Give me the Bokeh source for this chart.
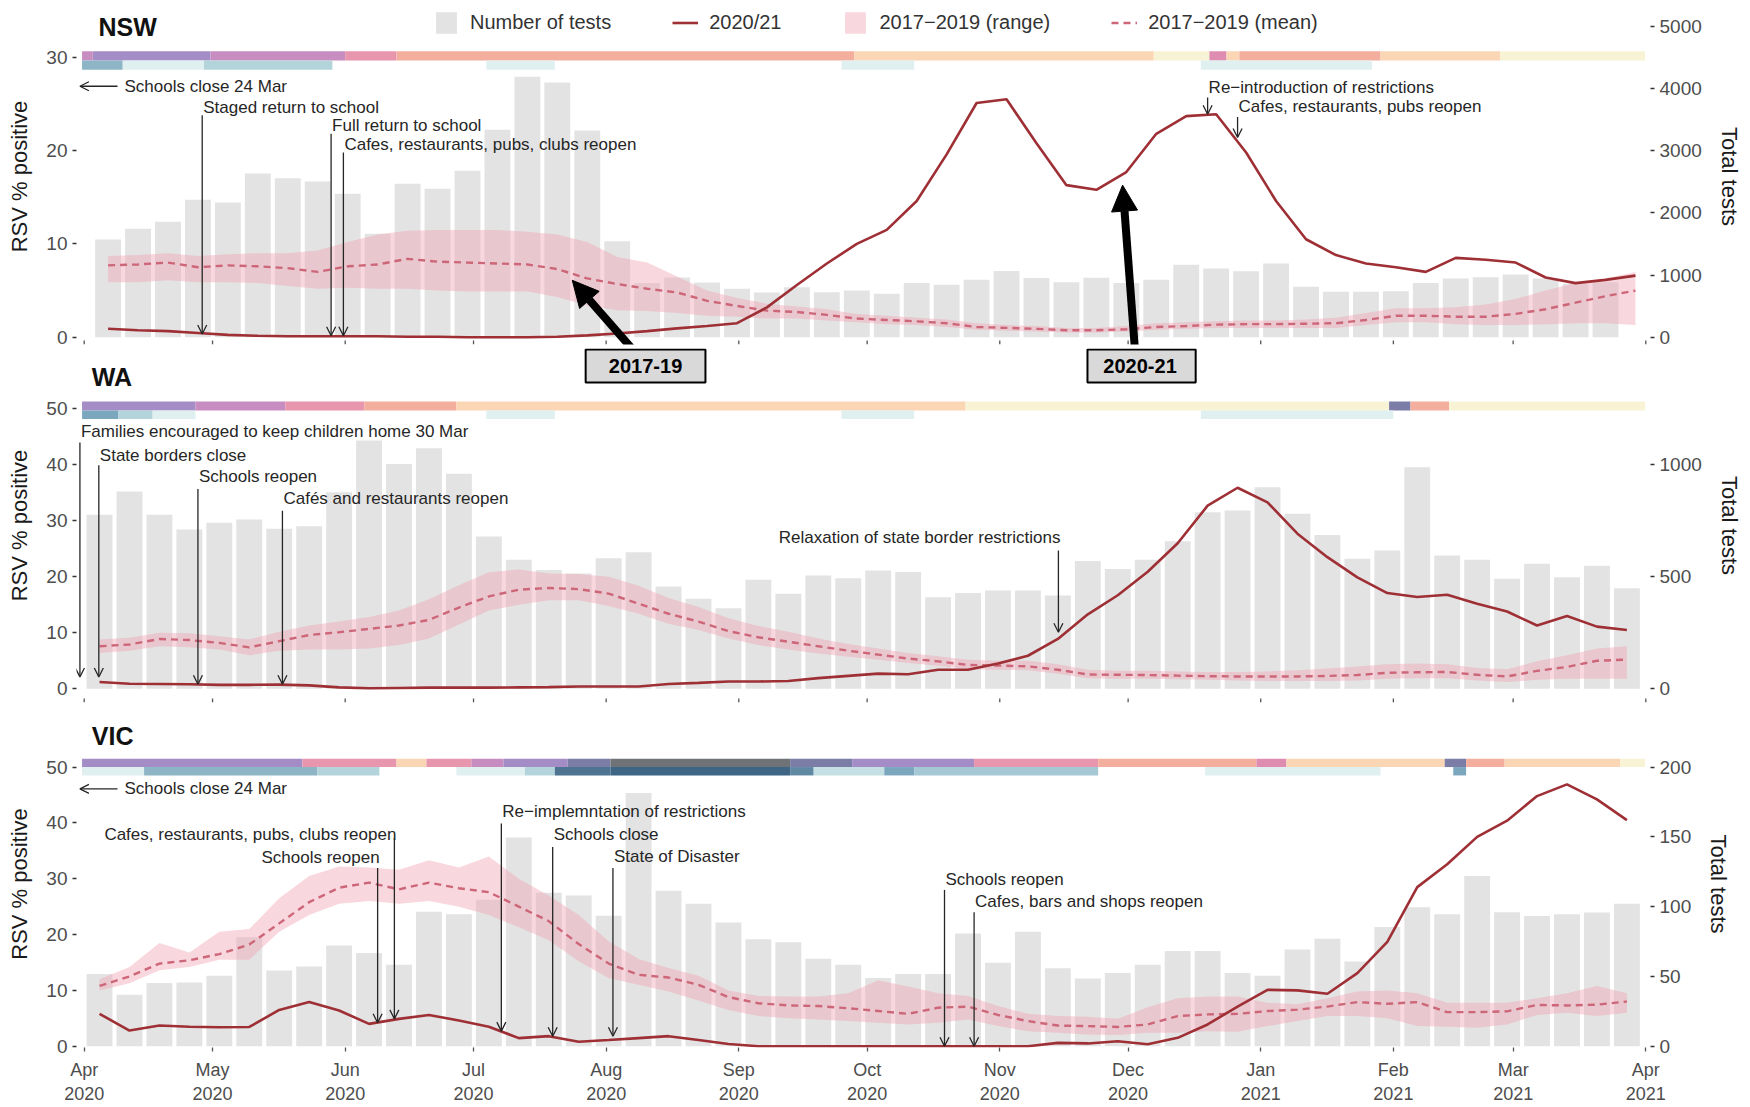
import pandas as pd
from bokeh.plotting import figure
from bokeh.layouts import column
from bokeh.models import (Range1d, LinearAxis, FixedTicker, DatetimeTickFormatter, Label,
                          Arrow, OpenHead, NormalHead, Legend, LegendItem, ColumnDataSource)
from bokeh.embed import file_html
from bokeh.resources import INLINE

# ---------------------------------------------------------------- data
month_ticks = ["2020-04-01", "2020-05-01", "2020-06-01", "2020-07-01", "2020-08-01",
               "2020-09-01", "2020-10-01", "2020-11-01", "2020-12-01", "2021-01-01",
               "2021-02-01", "2021-03-01", "2021-04-01"]

nsw_week_start = "2020-04-06 14:00"
wa_week_start = "2020-04-04 14:00"
vic_week_start = "2020-04-04 14:00"

# NSW
nsw_rsv_2020 = [0.9, 0.75, 0.65, 0.45, 0.25, 0.15, 0.1, 0.1, 0.1, 0.1,
                0.05, 0.05, 0.0, 0.0, 0.0, 0.05, 0.2, 0.4, 0.65, 0.95,
                1.2, 1.5, 3.2, 5.6, 7.9, 10.0, 11.5, 14.6, 19.6, 25.1,
                25.5, 20.8, 16.3, 15.8, 17.7, 21.8, 23.7, 23.9, 19.8, 14.6,
                10.5, 8.8, 7.9, 7.5, 7.0, 8.5, 8.3, 8.0, 6.4, 5.8,
                6.15, 6.6]
nsw_mean = [7.7, 7.8, 8.0, 7.5, 7.7, 7.6, 7.4, 7.0, 7.6, 7.8,
            8.4, 8.1, 8.0, 7.9, 7.8, 7.3, 6.3, 5.7, 5.2, 4.8,
            3.9, 3.35, 2.85, 2.7, 2.4, 2.0, 1.85, 1.7, 1.5, 1.1,
            1.0, 0.9, 0.75, 0.75, 0.85, 1.1, 1.2, 1.35, 1.4, 1.4,
            1.45, 1.5, 1.85, 2.3, 2.3, 2.2, 2.2, 2.5, 3.0, 3.7,
            4.4, 5.0]
nsw_low = [5.9, 5.9, 6.1, 5.9, 5.9, 5.8, 5.5, 5.2, 5.3, 5.2,
           5.2, 5.0, 4.9, 4.9, 4.9, 4.3, 3.4, 2.9, 2.8, 2.6,
           2.3, 2.2, 2.0, 2.0, 1.8, 1.6, 1.4, 1.3, 1.1, 0.8,
           0.7, 0.6, 0.5, 0.5, 0.6, 0.8, 0.9, 1.0, 1.0, 1.0,
           1.0, 1.0, 1.3, 1.6, 1.6, 1.4, 1.3, 1.3, 1.4, 1.5,
           1.5, 1.3]
nsw_high = [8.7, 8.8, 9.0, 8.7, 8.9, 9.0, 9.0, 9.3, 10.2, 11.0,
            11.4, 11.5, 11.5, 11.5, 11.3, 11.0, 10.2, 8.6, 8.0, 6.5,
            5.0, 4.2, 3.6, 3.3, 3.0, 2.5, 2.3, 2.1, 1.9, 1.5,
            1.3, 1.2, 1.0, 1.0, 1.2, 1.5, 1.6, 1.7, 1.8, 1.8,
            1.9, 2.1, 2.6, 3.1, 3.1, 3.2, 3.5, 4.1, 5.0, 5.8,
            6.3, 7.0]
nsw_tests = [1571, 1743, 1855, 2209, 2166, 2632, 2557, 2504, 2306, 1663,
             2467, 2386, 2676, 3335, 4187, 4096, 3324, 1544, 870, 960,
             880, 780, 720, 804, 724, 751, 698, 870, 845, 925,
             1065, 952, 885, 955, 872, 922, 1166, 1105, 1061, 1185,
             810, 730, 730, 738, 870, 944, 965, 1008, 942, 858,
             885]

# WA
wa_rsv_2020 = [1.2, 0.9, 0.85, 0.8, 0.7, 0.7, 0.75, 0.6, 0.25, 0.1,
               0.15, 0.2, 0.2, 0.2, 0.25, 0.3, 0.4, 0.4, 0.4, 0.85,
               1.05, 1.3, 1.3, 1.4, 1.9, 2.3, 2.7, 2.6, 3.4, 3.4,
               4.5, 5.9, 8.9, 13.3, 16.7, 20.9, 26.0, 32.7, 35.9, 33.3,
               27.7, 23.5, 19.9, 17.1, 16.4, 16.8, 15.2, 13.8, 11.3, 13.0,
               11.1, 10.5]
wa_mean = [7.6, 7.9, 8.9, 8.7, 8.2, 7.4, 8.5, 9.6, 10.1, 10.7,
           11.3, 12.3, 14.5, 16.5, 17.7, 18.0, 17.8, 17.0, 15.2, 13.4,
           12.0, 10.3, 9.2, 8.4, 7.6, 6.8, 6.1, 5.4, 4.9, 4.25,
           4.15, 4.0, 3.4, 2.55, 2.5, 2.45, 2.35, 2.25, 2.2, 2.2,
           2.2, 2.3, 2.45, 2.85, 2.95, 3.0, 2.5, 2.2, 3.2, 3.9,
           5.0, 5.2]
wa_low = [6.4, 6.8, 7.6, 7.4, 7.0, 6.0, 6.8, 7.0, 7.0, 7.2,
          7.8, 9.0, 11.5, 14.0, 15.0, 15.8, 15.8, 14.8, 13.4, 11.6,
          10.5, 9.0, 7.8, 7.0, 6.3, 5.7, 5.2, 4.6, 4.1, 3.5,
          3.4, 3.3, 2.7, 1.9, 1.8, 1.8, 1.7, 1.6, 1.5, 1.4,
          1.4, 1.4, 1.5, 1.8, 1.9, 1.9, 1.5, 1.2, 1.6, 1.8,
          1.8, 1.8]
wa_high = [8.8, 9.1, 10.0, 9.9, 9.4, 8.8, 10.2, 11.3, 12.0, 12.8,
           14.0, 16.0, 18.5, 20.8, 21.3, 20.6, 20.5, 20.0, 18.4, 16.2,
           14.6, 12.6, 11.2, 10.2, 9.0, 8.0, 7.2, 6.4, 5.8, 5.2,
           5.0, 5.0, 4.4, 3.4, 3.2, 3.2, 3.1, 3.0, 3.0, 3.1,
           3.3, 3.6, 4.0, 4.4, 4.5, 4.4, 3.7, 3.5, 4.9, 6.0,
           7.2, 7.6]
wa_tests = [777, 881, 777, 711, 741, 756, 714, 726, 878, 1108,
            1004, 1074, 960, 680, 576, 530, 515, 583, 610, 457,
            402, 360, 487, 424, 506, 494, 528, 521, 409, 428,
            439, 439, 417, 570, 535, 576, 659, 788, 796, 900,
            781, 687, 580, 617, 989, 595, 576, 491, 558, 498,
            549, 449]

# VIC
vic_rsv_2020 = [5.8, 2.8, 3.7, 3.5, 3.4, 3.45, 6.5, 7.9, 6.4, 4.0,
                4.9, 5.6, 4.6, 3.5, 1.45, 1.8, 0.8, 1.1, 1.45, 1.8,
                1.1, 0.4, 0.0, 0.0, 0.0, 0.0, 0.0, 0.0, 0.0, 0.0,
                0.0, 0.0, 0.6, 0.5, 0.9, 0.35, 1.5, 3.9, 7.1, 10.1,
                10.0, 9.4, 13.1, 18.7, 28.5, 32.6, 37.5, 40.4, 44.8, 46.9,
                44.2, 40.5]
vic_mean = [10.8, 12.5, 14.8, 15.4, 16.5, 18.2, 22.0, 25.8, 28.4, 29.3,
            28.1, 29.3, 28.3, 27.6, 25.0, 22.4, 18.3, 14.8, 12.8, 12.3,
            11.0, 8.8, 7.7, 7.3, 7.2, 6.8, 6.3, 5.8, 6.9, 7.1,
            5.6, 4.5, 3.7, 3.6, 3.45, 3.9, 5.4, 5.7, 5.8, 6.3,
            6.55, 7.1, 7.9, 7.6, 7.9, 6.1, 6.1, 6.25, 7.4, 7.3,
            7.45, 8.0]
vic_low = [10.0, 11.3, 13.6, 14.2, 15.5, 15.5, 20.5, 23.5, 25.5, 26.0,
           25.5, 26.0, 25.0, 23.5, 21.3, 19.0, 15.2, 12.2, 11.0, 9.8,
           8.2, 6.5, 5.4, 5.0, 4.8, 4.5, 4.2, 3.9, 4.2, 4.8,
           3.6, 2.7, 2.4, 2.1, 2.0, 2.4, 2.4, 2.7, 2.6, 3.6,
           4.5, 5.4, 5.4, 5.0, 3.6, 3.5, 3.3, 3.9, 5.6, 6.0,
           5.4, 6.0]
vic_high = [12.0, 14.2, 18.5, 16.8, 20.5, 21.0, 26.5, 30.5, 32.2, 32.0,
            31.6, 33.3, 32.0, 34.0, 30.0, 27.0, 23.5, 18.8, 15.6, 14.0,
            12.6, 10.0, 9.0, 8.9, 8.9, 9.5, 11.8, 10.7, 9.5, 9.0,
            7.2, 5.8, 5.4, 5.3, 4.9, 7.0, 8.6, 8.9, 8.9, 7.8,
            7.5, 8.6, 9.8, 10.0, 9.5, 7.8, 7.8, 7.8, 8.6, 9.5,
            10.8, 9.5]
vic_tests = [51.7, 36.9, 45.3, 45.7, 50.5, 78, 54.3, 57.1, 72.1, 66.7,
             58.4, 96.4, 94.5, 105, 149.6, 110, 108, 93.5, 181.5, 111.3,
             102, 88.6, 76.7, 74.5, 62.6, 58.4, 48.8, 51.8, 51.8, 80.8,
             59.8, 82, 55.8, 48.5, 52.4, 58.4, 68.3, 68.3, 52.4, 50.4,
             69.3, 77, 60.7, 85.5, 99.5, 94.5, 122, 96, 93.3, 94.5,
             95.8, 102]

# restriction strips: (start, end, level)
nsw_stringency = [("2020-03-31 12:00", "2020-04-03", 6), ("2020-04-03", "2020-04-30 12:00", 7),
                  ("2020-04-30 12:00", "2020-06-01", 6), ("2020-06-01", "2020-06-13", 4),
                  ("2020-06-13", "2020-09-28", 3), ("2020-09-28", "2020-12-07", 2),
                  ("2020-12-07", "2020-12-20", 1), ("2020-12-20", "2020-12-24", 5),
                  ("2020-12-24", "2020-12-27", 2), ("2020-12-27", "2021-01-29", 3),
                  ("2021-01-29", "2021-02-26", 2), ("2021-02-26", "2021-03-31 20:00", 1)]
nsw_mobility = [("2020-03-31 12:00", "2020-04-10", 5), ("2020-04-10", "2020-04-29", 1),
                ("2020-04-29", "2020-05-29", 3), ("2020-07-04", "2020-07-20", 1),
                ("2020-09-25", "2020-10-12", 1), ("2020-12-18", "2021-01-27", 1)]
wa_stringency = [("2020-03-31 12:00", "2020-04-27", 7), ("2020-04-27", "2020-05-18", 6),
                 ("2020-05-18", "2020-06-05 12:00", 4), ("2020-06-05 12:00", "2020-06-27", 3),
                 ("2020-06-27", "2020-10-24", 2), ("2020-10-24", "2021-01-31", 1),
                 ("2021-01-31", "2021-02-05", 8), ("2021-02-05", "2021-02-14", 3),
                 ("2021-02-14", "2021-03-31 20:00", 1)]
wa_mobility = [("2020-03-31 12:00", "2020-04-09", 6), ("2020-04-09", "2020-04-17", 3),
               ("2020-04-17", "2020-04-27", 1), ("2020-07-04", "2020-07-20", 1),
               ("2020-09-25", "2020-10-12", 1), ("2020-12-18", "2021-02-01", 1)]
vic_stringency = [("2020-03-31 12:00", "2020-05-22", 7), ("2020-05-22", "2020-06-13", 4),
                  ("2020-06-13", "2020-06-20", 2), ("2020-06-20", "2020-06-30 12:00", 4),
                  ("2020-06-30 12:00", "2020-07-08", 6), ("2020-07-08", "2020-07-23", 7),
                  ("2020-07-23", "2020-08-02", 8), ("2020-08-02", "2020-09-13", 9),
                  ("2020-09-13", "2020-09-27 12:00", 8), ("2020-09-27 12:00", "2020-10-26", 7),
                  ("2020-10-26", "2020-11-24", 4), ("2020-11-24", "2020-12-31", 3),
                  ("2020-12-31", "2021-01-07", 5), ("2021-01-07", "2021-02-13", 2),
                  ("2021-02-13", "2021-02-18", 8), ("2021-02-18", "2021-02-27", 3),
                  ("2021-02-27", "2021-03-26", 2), ("2021-03-26", "2021-03-31 20:00", 1)]
vic_mobility = [("2020-03-31 12:00", "2020-04-15", 1), ("2020-04-15", "2020-05-25 12:00", 5),
                ("2020-05-25 12:00", "2020-06-09", 3), ("2020-06-27", "2020-07-13", 1),
                ("2020-07-13", "2020-07-20", 3), ("2020-07-20", "2020-08-02", 8),
                ("2020-08-02", "2020-09-13", 9), ("2020-09-13", "2020-09-18 12:00", 7),
                ("2020-09-18 12:00", "2020-10-05", 2), ("2020-10-05", "2020-10-12", 6),
                ("2020-10-12", "2020-11-24", 4), ("2020-12-19", "2021-01-29", 1),
                ("2021-02-15", "2021-02-18", 6)]

# events: (text, date, text_y, arrow_top, arrow_bottom, align)
nsw_events = [("Staged return to school", "2020-04-28 14:00", 24.65, 23.8, 0.35, "left"),
              ("Full return to school", "2020-05-28 17:00", 22.7, 21.8, 0.15, "left"),
              ("Cafes, restaurants, pubs, clubs reopen", "2020-05-31 14:00", 20.7, 19.8, 0.15, "left"),
              ("Re\u2212introduction of restrictions", "2020-12-19 14:00", 26.8, 25.7, 23.9, "left"),
              ("Cafes, restaurants, pubs reopen", "2020-12-26 14:00", 24.7, 23.6, 21.4, "left")]
wa_events = [("Families encouraged to keep children home 30 Mar", "2020-03-31 00:00", 46.0, 44.0, 2.1, "left"),
             ("State borders close", "2020-04-04 10:00", 41.7, 39.9, 2.1, "left"),
             ("Schools reopen", "2020-04-27 14:00", 37.9, 35.7, 0.8, "left"),
             ("Caf\u00e9s and restaurants reopen", "2020-05-17 08:00", 33.9, 31.8, 0.8, "left"),
             ("Relaxation of state border restrictions", "2020-11-14 17:00", 27.1, 24.7, 10.1, "right")]
vic_events = [("Cafes, restaurants, pubs, clubs reopen", "2020-06-12 12:00", 38.0, 37.3, 4.9, "right"),
              ("Schools reopen", "2020-06-08 14:00", 33.8, 31.9, 4.2, "right"),
              ("Re\u2212implemntation of restrictions", "2020-07-07 12:00", 42.0, 39.9, 2.7, "left"),
              ("Schools close", "2020-07-19 12:00", 38.0, 35.7, 1.8, "left"),
              ("State of Disaster", "2020-08-02 14:00", 33.9, 31.9, 1.8, "left"),
              ("Schools reopen", "2020-10-19 02:00", 29.8, 28.0, 0.0, "left"),
              ("Cafes, bars and shops reopen", "2020-10-26 00:00", 25.9, 24.0, 0.0, "left")]

# ---------------------------------------------------------------- style
FONT = "Liberation Sans"
ANN = "#262626"
STR_COLORS = {1: "#f8f3d4", 2: "#fbd6b5", 3: "#f4ae9e", 4: "#e895ae", 5: "#de8db0",
              6: "#c78dc1", 7: "#a48cc6", 8: "#7c7da7", 9: "#6f7378"}
MOB_COLORS = {1: "#e0efef", 2: "#c5e0e4", 3: "#b3d4db", 4: "#a4c8d4", 5: "#8db5c6",
              6: "#7aa6be", 7: "#5f88a3", 8: "#4e7491", 9: "#3e6583"}
BAR_W = 6.05 * 86400000
X_START = pd.Timestamp("2020-03-30 04:48")
X_END = pd.Timestamp("2021-04-02 02:24")
FIG_W = 1748


def ms(s):
    return pd.Timestamp(s).value / 1e6


def style_axis(ax, size="19px"):
    ax.axis_line_color = None
    ax.major_tick_line_color = "#333333"
    ax.major_tick_line_width = 1.3
    ax.major_tick_out = 4
    ax.major_tick_in = 0
    ax.minor_tick_line_color = None
    ax.major_label_text_font = FONT
    ax.major_label_text_font_size = size
    ax.major_label_text_color = "#4d4d4d"
    ax.major_label_standoff = 5
    ax.axis_label_text_font = FONT
    ax.axis_label_text_font_size = "22px"
    ax.axis_label_text_font_style = "normal"
    ax.axis_label_text_color = "#1a1a1a"


def build(cfg, start, rsv, mean, low, high, tests, stringency, mobility, events, show_x):
    p = figure(width=FIG_W, height=cfg["height"], x_axis_type="datetime",
               x_range=Range1d(X_START, X_END), y_range=Range1d(cfg["y0"], cfg["y1"]),
               output_backend="svg", toolbar_location=None,
               min_border_left=76, min_border_right=FIG_W - 1650,
               min_border_top=cfg["bt"], min_border_bottom=cfg["bb"])
    p.outline_line_color = None
    p.xgrid.visible = False
    p.ygrid.visible = False
    p.extra_y_ranges = {"tests": Range1d(cfg["y0"] * cfg["ratio"], cfg["y1"] * cfg["ratio"])}

    # strips
    for rows, (b, t), pal in ((stringency, cfg["strip1"], STR_COLORS),
                              (mobility, cfg["strip2"], MOB_COLORS)):
        src = ColumnDataSource(dict(left=[pd.Timestamp(r[0]) for r in rows],
                                    right=[pd.Timestamp(r[1]) for r in rows],
                                    color=[pal[r[2]] for r in rows]))
        p.quad(left="left", right="right", bottom=b, top=t, fill_color="color",
               line_color=None, source=src)

    weeks = pd.date_range(start, periods=len(rsv), freq="7D")
    bsrc = ColumnDataSource(dict(date=weeks[:len(tests)], tests=tests))
    bars = p.vbar(x="date", top="tests", width=BAR_W, y_range_name="tests",
                  fill_color="#e3e3e3", line_color=None, source=bsrc)
    src = ColumnDataSource(dict(date=weeks, rsv=rsv, mean=mean, low=low, high=high))
    band = p.varea(x="date", y1="low", y2="high", fill_color="#f0a0b0", fill_alpha=0.42, source=src)
    mline = p.line("date", "mean", line_dash="7 5", line_width=2.4, line_color="#cd6678", source=src)
    rline = p.line("date", "rsv", line_width=2.6, line_color="#9e2f35", source=src)

    la = p.left[0]
    la.ticker = FixedTicker(ticks=cfg["left_ticks"])
    la.axis_label = "RSV % positive"
    style_axis(la)
    la.axis_label_standoff = 11
    ra = LinearAxis(y_range_name="tests", ticker=FixedTicker(ticks=cfg["right_ticks"]),
                    axis_label="Total tests")
    style_axis(ra)
    ra.axis_label_standoff = 12
    p.add_layout(ra, "right")

    xa = p.below[0]
    if show_x:
        xa.ticker = FixedTicker(ticks=[ms(d) for d in month_ticks])
        xa.formatter = DatetimeTickFormatter(days="%b\n%Y", months="%b\n%Y", years="%b\n%Y")
        style_axis(xa, "18px")
        xa.major_tick_line_color = "#555555"
        xa.major_label_standoff = 8
    else:
        xa.visible = False
        # month tick marks drawn at the foot of the panel
        tsrc = ColumnDataSource(dict(x=pd.to_datetime(month_ticks)))
        p.segment(x0="x", x1="x", y0=cfg["y0"], y1=cfg["tick_top"], line_color="#555555",
                  line_width=1.3, source=tsrc)

    # panel title
    p.add_layout(Label(x=ms(cfg["title_x"]), y=cfg["title_y"], text=cfg["title"],
                       text_font=FONT, text_font_size="25px", text_font_style="bold",
                       text_color="#111111", text_baseline="middle"))
    # events
    for text, date, ty, top, bot, align in events:
        x = ms(date)
        p.add_layout(Arrow(x_start=x, y_start=top, x_end=x, y_end=bot, line_color=ANN,
                           line_width=1.3, end=OpenHead(size=9, line_color=ANN, line_width=1.3)))
        p.add_layout(Label(x=x, y=ty, text=text, text_align=align, text_baseline="middle",
                           x_offset=(1 if align == "left" else 2), text_font=FONT,
                           text_font_size="17px", text_color=ANN))
    return p, bars, band, mline, rline


def schools_close(p, y):
    p.add_layout(Arrow(x_start=ms("2020-04-08 19:00"), y_start=y, x_end=ms("2020-03-31 00:00"), y_end=y,
                       line_color=ANN, line_width=1.3,
                       end=OpenHead(size=9, line_color=ANN, line_width=1.3)))
    p.add_layout(Label(x=ms("2020-04-10 10:00"), y=y, text="Schools close 24 Mar", text_font=FONT,
                       text_font_size="17px", text_color=ANN, text_baseline="middle"))


# panel geometry (page px): NSW frame 8-344, WA frame 348-702, VIC frame 720-1048
nsw_cfg = dict(height=348, bt=8, bb=4, y0=-0.78, y1=35.23, ratio=150, tick_top=-0.35,
               left_ticks=[0, 10, 20, 30], right_ticks=[0, 1000, 2000, 3000, 4000, 5000],
               strip1=(29.65, 30.65), strip2=(28.66, 29.65),
               title="NSW", title_x="2020-04-04 08:00", title_y=33.3)
wa_cfg = dict(height=362, bt=0, bb=8, y0=-2.45, y1=60.77, ratio=25, tick_top=-1.73,
              left_ticks=[0, 10, 20, 30, 40, 50], right_ticks=[0, 500, 1000],
              strip1=(49.7, 51.3), strip2=(48.2, 49.7),
              title="WA", title_x="2020-04-02 19:00", title_y=55.6)
vic_cfg = dict(height=396, bt=10, bb=58, y0=-0.23, y1=58.34, ratio=4,
               left_ticks=[0, 10, 20, 30, 40, 50], right_ticks=[0, 50, 100, 150, 200],
               strip1=(50.0, 51.5), strip2=(48.5, 50.0),
               title="VIC", title_x="2020-04-02 19:00", title_y=55.6)

p1, bars, band, mline, rline = build(nsw_cfg, nsw_week_start, nsw_rsv_2020, nsw_mean, nsw_low, nsw_high,
                                     nsw_tests, nsw_stringency, nsw_mobility, nsw_events, False)
schools_close(p1, 26.9)
legend = Legend(items=[LegendItem(label="Number of tests", renderers=[bars]),
                       LegendItem(label="2020/21", renderers=[rline]),
                       LegendItem(label="2017\u22122019 (range)", renderers=[band]),
                       LegendItem(label="2017\u22122019 (mean)", renderers=[mline])],
                location=(357, 308), orientation="horizontal", padding=0, margin=0,
                spacing=61, glyph_width=26, glyph_height=27, label_standoff=11,
                label_text_font=FONT, label_text_font_size="20px", label_text_color="#333333",
                border_line_color=None, background_fill_alpha=0)
p1.add_layout(legend)
# callout arrows
for tail, tip, tip_y in (("2020-08-07 02:00", "2020-07-24 02:00", 6.1),
                         ("2020-12-02 14:00", "2020-11-29 17:00", 16.3)):
    p1.add_layout(Arrow(x_start=ms(tail), y_start=-1.25, x_end=ms(tip), y_end=tip_y,
                        line_color="black", line_width=8,
                        end=NormalHead(size=26, fill_color="black", line_color="black", line_width=1)))

p2, *_ = build(wa_cfg, wa_week_start, wa_rsv_2020, wa_mean, wa_low, wa_high,
               wa_tests, wa_stringency, wa_mobility, wa_events, False)
# callout boxes
for left, right, cx, txt in (("2020-07-27 05:00", "2020-08-24 05:00", "2020-08-10 05:00", "2017-19"),
                             ("2020-11-21 12:00", "2020-12-16 19:00", "2020-12-03 19:00", "2020-21")):
    p2.quad(left=[pd.Timestamp(left)], right=[pd.Timestamp(right)], bottom=[54.7], top=[60.6],
            fill_color="#d9d9d9", line_color="black", line_width=2)
    p2.add_layout(Label(x=ms(cx), y=57.7, text=txt, text_align="center", text_baseline="middle",
                        text_font=FONT, text_font_size="20px", text_font_style="bold",
                        text_color="black"))

p3, *_ = build(vic_cfg, vic_week_start, vic_rsv_2020, vic_mean, vic_low, vic_high,
               vic_tests, vic_stringency, vic_mobility, vic_events, True)
schools_close(p3, 46.1)

layout = column(p1, p2, p3, spacing=0)
open("out.html", "w").write(file_html(layout, INLINE))
